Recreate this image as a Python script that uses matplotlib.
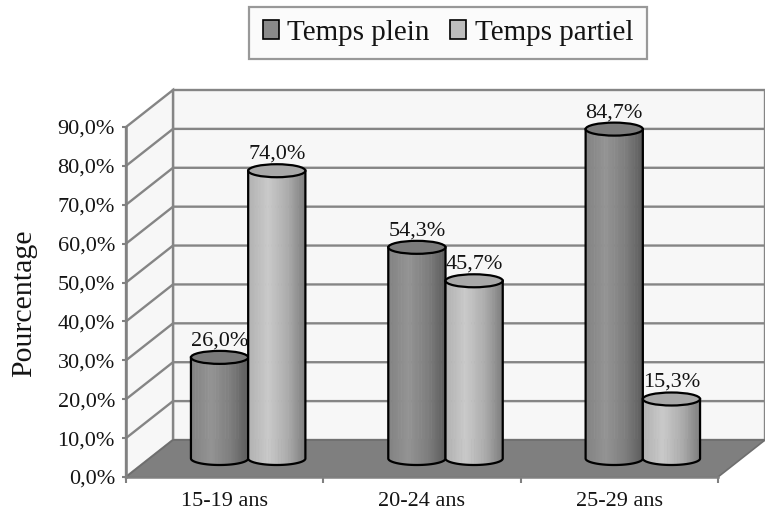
import matplotlib
matplotlib.use('Agg')
import matplotlib.pyplot as plt
import numpy as np
from matplotlib.patches import Polygon, Patch, Ellipse
from matplotlib.collections import PolyCollection
from matplotlib.lines import Line2D
from matplotlib.transforms import IdentityTransform

categories = ['15-19 ans', '20-24 ans', '25-29 ans']
series_names = ['Temps plein', 'Temps partiel']
temps_plein = [26.0, 54.3, 84.7]
temps_partiel = [74.0, 45.7, 15.3]
y_ticks = [0, 10, 20, 30, 40, 50, 60, 70, 80, 90]
y_label = 'Pourcentage'

FONT = ['Liberation Serif', 'DejaVu Serif']
plt.rcParams['font.family'] = FONT
TXT = '#141414'

W, H, DPI = 765, 516, 100
fig = plt.figure(figsize=(W / DPI, H / DPI), dpi=DPI)
fig.patch.set_facecolor('white')
ax = fig.add_axes([126 / W, 1 - 477 / H, (718 - 126) / W, (477 - 127) / H])
ax.set_xlim(0, 3)
ax.set_ylim(0, 90)
ax.patch.set_visible(False)

DX, DY = 47, 37  # depth offset in pixels
ID = IdentityTransform()
GRID = '#858585'


def P(x, y, d):
    px, py = ax.transData.transform((x, y))
    return (px + d * DX, py + d * DY)


def poly(pts, **kw):
    p = Polygon(pts, closed=True, transform=ID, clip_on=False, **kw)
    ax.add_artist(p)
    return p


def line(pts, **kw):
    xs, ys = zip(*pts)
    l = Line2D(xs, ys, transform=ID, clip_on=False, **kw)
    ax.add_artist(l)
    return l


ncat = len(categories)
ymax = y_ticks[-1]

# back wall
poly([P(0, 0, 1), P(ncat, 0, 1), P(ncat, ymax, 1), P(0, ymax, 1)],
     facecolor='#f7f7f7', edgecolor=GRID, linewidth=1.7, zorder=0.5)
# side wall
poly([P(0, 0, 0), P(0, ymax, 0), P(0, ymax, 1), P(0, 0, 1)],
     facecolor='#f7f7f7', edgecolor=GRID, linewidth=1.7, zorder=0.5)
# gridlines
for v in y_ticks[1:-1]:
    line([P(0, v, 0), P(0, v, 1), P(ncat, v, 1)], color=GRID, linewidth=1.7, zorder=0.6)
# floor
poly([P(0, 0, 0), P(ncat, 0, 0), P(ncat, 0, 1), P(0, 0, 1)],
     facecolor='#7f7f7f', edgecolor='#6e6e6e', linewidth=1.2, zorder=0.7)

# cylinders
w = 0.29
b = 6.5
stops_u = [-1.0, -0.3, 0.4, 1.0]
shade = [0.88, 1.0, 0.85, 0.62]
base = [0.58, 0.79]
top_col = ['#7a7a7a', '#a8a8a8']
N = 40
for i in range(ncat):
    for s, vals in enumerate([temps_plein, temps_partiel]):
        v = vals[i]
        xc = i + 0.5 + (s - 0.5) * w
        cx, yb = P(xc, 0, 0.5)
        _, yt = P(xc, v, 0.5)
        xl, _ = P(xc - w / 2, 0, 0.5)
        rp = cx - xl
        us = np.linspace(-1, 1, N + 1)
        verts, cols = [], []
        for k in range(N):
            u0, u1 = us[k], us[k + 1]
            um = 0.5 * (u0 + u1)
            g = base[s] * np.interp(um, stops_u, shade)
            g = min(g, 1.0)
            yb0 = yb - b * np.sqrt(max(0, 1 - u0 ** 2))
            yb1 = yb - b * np.sqrt(max(0, 1 - u1 ** 2))
            verts.append([(cx + u0 * rp, yt), (cx + u1 * rp + 0.6, yt),
                          (cx + u1 * rp + 0.6, yb1), (cx + u0 * rp, yb0)])
            cols.append((g, g, g))
        pc = PolyCollection(verts, facecolors=cols, edgecolors='none',
                            transform=ID, clip_on=False, zorder=2 + i * 2 + s * 0.5)
        ax.add_collection(pc, autolim=False)
        th = np.linspace(np.pi, 2 * np.pi, 60)
        outline = [(cx - rp, yt)] + [(cx + rp * np.cos(t), yb + b * np.sin(t)) for t in th] + [(cx + rp, yt)]
        line(outline, color='black', linewidth=1.6, zorder=2.1 + i * 2 + s * 0.5,
             solid_joinstyle='round')
        e = Ellipse((cx, yt), 2 * rp, 2 * b, transform=ID, facecolor=top_col[s],
                    edgecolor='black', linewidth=1.6, clip_on=False,
                    zorder=2.2 + i * 2 + s * 0.5)
        ax.add_artist(e)
        lab = f"{v:.1f}".replace('.', ',') + '%'
        ax.text(cx, yt + 12, lab, transform=ID, ha='center', va='baseline',
                fontsize=16, color=TXT, zorder=20, clip_on=False)

# axes / ticks
for side in ['top', 'right']:
    ax.spines[side].set_visible(False)
for side in ['left', 'bottom']:
    ax.spines[side].set_color('#808080')
    ax.spines[side].set_linewidth(1.8)
    ax.spines[side].set_zorder(1)
ax.set_yticks(y_ticks)
ax.set_yticklabels([f"{t:.1f}".replace('.', ',') + '%' for t in y_ticks])
ax.tick_params(axis='y', direction='out', length=3, width=1.5, color='#808080',
               pad=5, labelsize=16, labelcolor=TXT)
ax.set_xticks(range(ncat + 1))
ax.set_xticklabels([''] * (ncat + 1))
ax.tick_params(axis='x', which='major', direction='out', length=4.5, width=1.5,
               color='#808080')
ax.set_xticks([i + 0.5 for i in range(ncat)], minor=True)
ax.set_xticklabels(categories, minor=True)
ax.tick_params(axis='x', which='minor', length=0, pad=11, labelsize=16,
               labelcolor=TXT)

fig.text(24 / W, 1 - 303 / H, y_label, rotation=90, ha='center', va='center',
         fontsize=21.5, color=TXT)

handles = [Patch(facecolor='#8a8a8a', edgecolor='black', linewidth=1.2),
           Patch(facecolor='#bdbdbd', edgecolor='black', linewidth=1.2)]
leg = fig.legend(handles, series_names, loc='center',
                 bbox_to_anchor=(448 / W, 1 - 33 / H), ncol=2, fontsize=21,
                 frameon=True, fancybox=False, edgecolor='#808080',
                 handlelength=0.55, handleheight=0.6, handletextpad=0.3,
                 columnspacing=0.7, borderpad=0.45, labelcolor=TXT)
leg.get_frame().set_linewidth(1.6)
leg.get_frame().set_facecolor('#fafafa')

fig.savefig('out.png', dpi=DPI, facecolor='white')
